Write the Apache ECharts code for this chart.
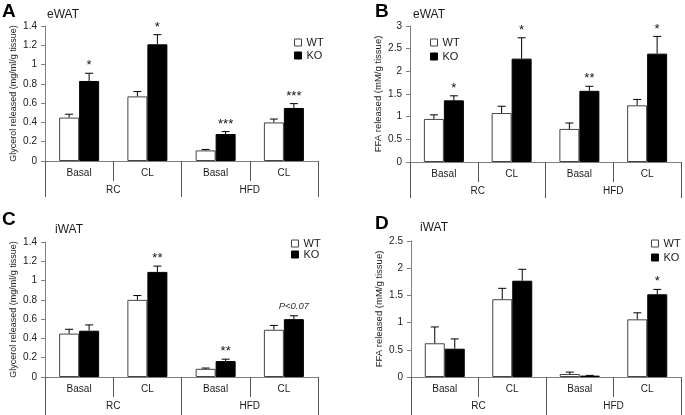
<!DOCTYPE html>
<html>
<head>
<meta charset="utf-8">
<script src="https://cdn.jsdelivr.net/npm/echarts@6/dist/echarts.min.js"></script>
<style>
  html, body { margin: 0; padding: 0; background: #fff; }
  #chart { width: 685px; height: 415px; }
</style>
</head>
<body>
<div id="chart"></div>
<script>
// categories
const conditions = ['Basal', 'CL', 'Basal', 'CL'];
const diets = ['RC', 'HFD'];

// A: eWAT glycerol
const aWT = [0.45, 0.67, 0.11, 0.40];
const aWTerr = [0.035, 0.05, 0.01, 0.035];
const aKO = [0.83, 1.21, 0.28, 0.55];
const aKOerr = [0.08, 0.10, 0.025, 0.045];
const aMarks = ['*', '*', '***', '***'];

// B: eWAT FFA
const bWT = [0.95, 1.08, 0.73, 1.25];
const bWTerr = [0.09, 0.15, 0.13, 0.13];
const bKO = [1.36, 2.28, 1.57, 2.39];
const bKOerr = [0.10, 0.46, 0.10, 0.38];
const bMarks = ['*', '*', '**', '*'];

// C: iWAT glycerol
const cWT = [0.45, 0.80, 0.085, 0.49];
const cWTerr = [0.045, 0.045, 0.008, 0.045];
const cKO = [0.48, 1.09, 0.165, 0.60];
const cKOerr = [0.06, 0.06, 0.02, 0.035];
const cMarks = ['', '**', '**', 'P<0.07'];

// D: iWAT FFA
const dWT = [0.62, 1.43, 0.055, 1.06];
const dWTerr = [0.30, 0.20, 0.035, 0.12];
const dKO = [0.52, 1.77, 0.025, 1.52];
const dKOerr = [0.18, 0.21, 0.005, 0.09];
const dMarks = ['', '', '', '*'];

// y axis ticks
const yTicksA = { max: 1.4, interval: 0.2 };
const yTicksB = { max: 3, interval: 0.5 };
const yTicksC = { max: 1.4, interval: 0.2 };
const yTicksD = { max: 2.5, interval: 0.5 };

const axisGray = '#7f7f7f';
const txt = '#1a1a1a';
const font = 'Liberation Sans, Arial, sans-serif';

const panels = [
  { letter: 'A', title: 'eWAT', wt: aWT, wtE: aWTerr, ko: aKO, koE: aKOerr, marks: aMarks, y: yTicksA,
    yName: 'Glycerol released (mg/ml/g tissue)', nameSize: 9, grid: { left: 45, top: 26, width: 273, height: 135 },
    letterPos: [2, 12], titlePos: [47, 16], legend: { left: 289, top: 31, gap: 0 }, lowTick: 36 },
  { letter: 'B', title: 'eWAT', wt: bWT, wtE: bWTerr, ko: bKO, koE: bKOerr, marks: bMarks, y: yTicksB,
    yName: 'FFA released (mM/g tissue)', nameSize: 9.5, grid: { left: 410, top: 26, width: 271, height: 136 },
    letterPos: [375, 12], titlePos: [413, 16], legend: { left: 425, top: 31, gap: 1 }, lowTick: 36 },
  { letter: 'C', title: 'iWAT', wt: cWT, wtE: cWTerr, ko: cKO, koE: cKOerr, marks: cMarks, y: yTicksC,
    yName: 'Glycerol released (mg/ml/g tissue)', nameSize: 9, grid: { left: 45, top: 242, width: 273, height: 135 },
    letterPos: [2, 220], titlePos: [55, 231], legend: { left: 286, top: 232, gap: -2 }, lowTick: 40 },
  { letter: 'D', title: 'iWAT', wt: dWT, wtE: dWTerr, ko: dKO, koE: dKOerr, marks: dMarks, y: yTicksD,
    yName: 'FFA released (mM/g tissue)', nameSize: 9.5, grid: { left: 411, top: 241, width: 270, height: 136 },
    letterPos: [375, 224], titlePos: [420, 229], legend: { left: 646, top: 232, gap: 1 }, lowTick: 40 }
];

function errRenderer(offset, marks) {
  return function (params, api) {
    const base = api.coord([api.value(0), api.value(1)]);
    const top = api.coord([api.value(0), api.value(2)]);
    const x = base[0] + offset;
    const children = [
      { type: 'line', shape: { x1: x, y1: base[1], x2: x, y2: top[1] }, style: { stroke: '#000', lineWidth: 1 } },
      { type: 'line', shape: { x1: x - 4, y1: top[1], x2: x + 4, y2: top[1] }, style: { stroke: '#000', lineWidth: 1 } }
    ];
    const m = marks ? marks[params.dataIndex] : '';
    if (m) {
      const isP = m.indexOf('P') === 0;
      children.push({
        type: 'text',
        style: {
          text: m, x: x, y: top[1] - (isP ? 4 : 1),
          align: 'center', verticalAlign: 'bottom',
          fontSize: isP ? 9.5 : 13, fontStyle: isP ? 'italic' : 'normal',
          fontFamily: font, fill: isP ? '#333' : '#111'
        }
      });
    }
    return { type: 'group', children: children };
  };
}

const grid = [], xAxis = [], yAxis = [], series = [], legend = [], graphic = [];

panels.forEach(function (p, i) {
  grid.push(p.grid);
  xAxis.push({
    type: 'category', gridIndex: i, data: conditions, position: 'bottom',
    axisLine: { lineStyle: { color: axisGray, width: 1 } },
    axisTick: { show: true, length: 20, lineStyle: { color: '#555' } },
    axisLabel: { interval: 0, margin: 7, fontSize: 10, color: txt, fontFamily: font }
  });
  xAxis.push({
    type: 'category', gridIndex: i, data: diets, position: 'bottom',
    axisLine: { show: false },
    axisTick: { show: true, length: p.lowTick, lineStyle: { color: '#555' } },
    axisLabel: { interval: 0, margin: 24, fontSize: 10, color: txt, fontFamily: font }
  });
  yAxis.push({
    type: 'value', gridIndex: i, min: 0, max: p.y.max, interval: p.y.interval,
    name: p.yName, nameLocation: 'middle', nameGap: 27, nameRotate: 90,
    nameTextStyle: { fontSize: p.nameSize, color: txt, fontFamily: font },
    axisLine: { show: true, lineStyle: { color: axisGray } },
    axisTick: { show: true, length: 4, lineStyle: { color: axisGray } },
    axisLabel: { fontSize: 10, color: txt, margin: 8, fontFamily: font },
    splitLine: { show: false }
  });
  series.push({
    name: 'WT', type: 'bar', xAxisIndex: 2 * i, yAxisIndex: i, data: p.wt,
    barWidth: 20, barGap: '0%',
    itemStyle: { color: '#fff', borderColor: '#444', borderWidth: 1 }
  });
  series.push({
    name: 'KO', type: 'bar', xAxisIndex: 2 * i, yAxisIndex: i, data: p.ko,
    barWidth: 20, barGap: '0%',
    itemStyle: { color: '#000', borderColor: '#000', borderWidth: 1 }
  });
  series.push({
    name: 'err' + i + 'WT', type: 'custom', xAxisIndex: 2 * i, yAxisIndex: i,
    renderItem: errRenderer(-10, null), encode: { x: 0, y: [1, 2] }, z: 5,
    data: p.wt.map(function (v, k) { return [k, v, v + p.wtE[k]]; })
  });
  series.push({
    name: 'err' + i + 'KO', type: 'custom', xAxisIndex: 2 * i, yAxisIndex: i,
    renderItem: errRenderer(10, p.marks), encode: { x: 0, y: [1, 2] }, z: 5,
    data: p.ko.map(function (v, k) { return [k, v, v + p.koE[k]]; })
  });
  legend.push({
    data: ['WT', 'KO'], orient: 'vertical', left: p.legend.left, top: p.legend.top,
    icon: 'rect', itemWidth: 7, itemHeight: 7, itemGap: p.legend.gap, selectedMode: false,
    itemStyle: { borderWidth: 1 },
    textStyle: { fontSize: 11, color: txt, fontFamily: font, lineHeight: 13 }
  });
  graphic.push({
    type: 'text', left: p.letterPos[0], top: p.letterPos[1] - 10,
    style: { text: p.letter, fontSize: 19, fontWeight: 'bold', fontFamily: font, fill: '#000' }
  });
  graphic.push({
    type: 'text', left: p.titlePos[0], top: p.titlePos[1] - 7,
    style: { text: p.title, fontSize: 12, fontFamily: font, fill: txt }
  });
});

const chart = echarts.init(document.getElementById('chart'), null, { renderer: 'canvas' });
chart.setOption({
  animation: false,
  backgroundColor: '#fff',
  grid: grid,
  xAxis: xAxis,
  yAxis: yAxis,
  series: series,
  legend: legend,
  graphic: graphic
});
</script>
</body>
</html>
